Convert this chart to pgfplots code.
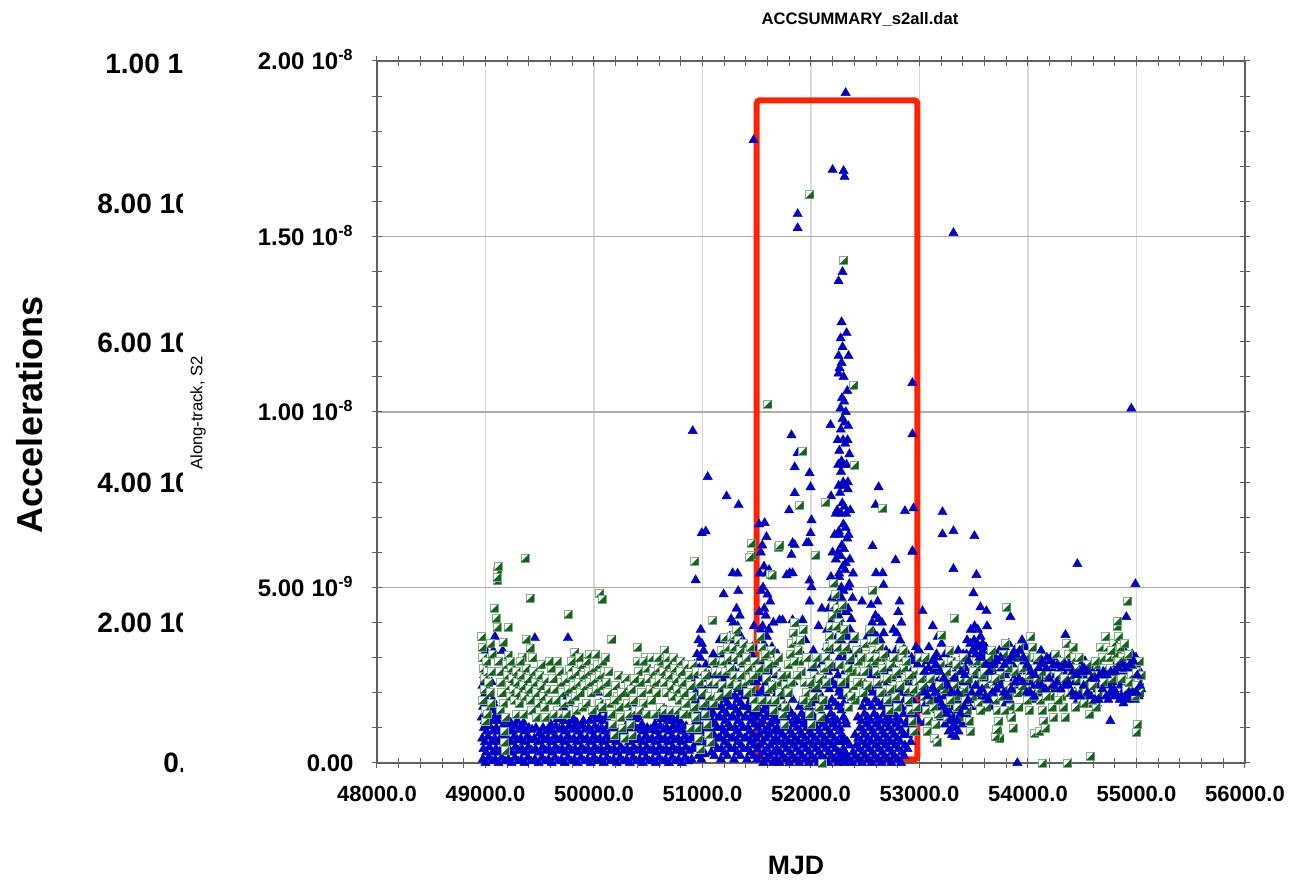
\documentclass[border=0pt]{standalone}
\usepackage{fontspec}
\setmainfont{Liberation Sans}
\usepackage{pgfplots}
\pgfplotsset{compat=1.18}
\definecolor{accblue}{RGB}{0,0,200}
\definecolor{accgreen}{RGB}{20,100,30}
\definecolor{accred}{RGB}{255,34,0}
\pgfdeclareplotmark{halfsq}{%
  \pgfsetfillcolor{white}%
  \pgfpathrectangle{\pgfpoint{-\pgfplotmarksize}{-\pgfplotmarksize}}{\pgfpoint{2\pgfplotmarksize}{2\pgfplotmarksize}}%
  \pgfusepathqfillstroke
  \begin{pgfscope}%
  \pgfsetfillcolor{accgreen}%
  \pgfpathmoveto{\pgfpoint{\pgfplotmarksize}{\pgfplotmarksize}}%
  \pgfpathlineto{\pgfpoint{\pgfplotmarksize}{-\pgfplotmarksize}}%
  \pgfpathlineto{\pgfpoint{-\pgfplotmarksize}{-\pgfplotmarksize}}%
  \pgfpathclose
  \pgfusepathqfill
  \end{pgfscope}%
}
\begin{document}
\begin{tikzpicture}
\useasboundingbox (-188.5pt,-59.5pt) rectangle (465.5pt,381.5pt);
\begin{axis}[
  at={(0pt,0pt)}, anchor=south west,
  scale only axis, width=434pt, height=351pt,
  xmin=48000, xmax=56000, ymin=0, ymax=20,
  clip=false, scaled x ticks=false, scaled y ticks=false,
  xtick={48000,49000,50000,51000,52000,53000,54000,55000,56000},
  xticklabels={48000.0,49000.0,50000.0,51000.0,52000.0,53000.0,54000.0,55000.0,56000.0},
  ytick={0,5,10,15,20},
  yticklabels={0.00,{5.00\hspace{0.3em}10\textsuperscript{-9}},{1.00\hspace{0.3em}10\textsuperscript{-8}},{1.50\hspace{0.3em}10\textsuperscript{-8}},{2.00\hspace{0.3em}10\textsuperscript{-8}}},
  minor x tick num=4, minor y tick num=4,
  tick pos=both, tick align=center,
  major tick length=5pt, minor tick length=5pt,
  axis line style={gray!75!black, line width=0.6pt},
  every tick/.style={gray!75!black, line width=0.5pt},
  xmajorgrids, ymajorgrids,
  x grid style={gray!30, line width=0.6pt},
  y grid style={gray!65, line width=0.6pt},
  ticklabel style={inner sep=0pt},
  xticklabel style={font=\bfseries\fontsize{11}{13}\selectfont, anchor=base, yshift=-17pt},
  yticklabel style={font=\bfseries\fontsize{12}{14}\selectfont, anchor=base east, xshift=-9pt, yshift=-4.3pt},
]
% blue triangles (units of 1e-9)
\addplot[only marks, mark=triangle*, mark size=2.7pt, color=accblue, mark options={fill=accblue, draw=accblue, line width=0.2pt}] coordinates {
(48975,0.1)(48981,0.4)(48970,0.7)(48985,1.0)(48967,1.3)(48978,1.6)(48983,1.9)(48972,2.2)(48987,2.5)
(49000,0.0)(49006,0.3)(48995,0.6)(49010,0.9)(48992,1.2)(49003,1.5)(49008,1.8)(48997,2.1)(49012,2.4)(48990,2.7)(49004,3.2)
(49030,0.15)(49036,0.45)(49025,0.75)(49040,1.05)(49022,1.35)(49033,1.65)(49038,2.0)
(49060,0.05)(49066,0.3)(49055,0.6)(49070,0.9)(49052,1.2)(49063,1.5)(49068,1.8)(49057,2.3)(49072,3.2)
(49090,0.1)(49096,0.4)(49085,0.7)(49100,1.0)(49082,1.3)(49093,1.6)(49087,3.6)
(49120,0.0)(49126,0.3)(49115,0.6)(49130,0.9)(49112,1.2)(49123,1.45)
(49150,0.15)(49156,0.45)(49145,0.75)(49160,1.05)(49142,1.35)(49160,3.2)
(49180,0.05)(49186,0.35)(49175,0.65)(49190,0.95)(49172,1.25)
(49210,0.1)(49216,0.4)(49205,0.7)(49220,1.0)(49202,1.2)
(49240,0.0)(49246,0.3)(49235,0.6)(49250,0.9)(49232,1.15)
(49270,0.15)(49276,0.45)(49265,0.75)(49280,1.05)
(49300,0.05)(49306,0.35)(49295,0.65)(49310,0.95)(49292,1.2)
(49330,0.1)(49336,0.4)(49325,0.7)(49340,1.0)
(49360,0.0)(49366,0.3)(49355,0.6)(49370,0.9)(49352,1.15)
(49390,0.15)(49396,0.45)(49385,0.75)(49400,1.0)
(49420,0.05)(49426,0.35)(49415,0.65)(49430,0.95)
(49455,0.1)(49461,0.4)(49450,0.7)(49465,1.0)(49455,3.56)
(49490,0.0)(49496,0.3)(49485,0.6)(49500,0.85)
(49520,0.15)(49526,0.45)(49515,0.75)(49530,1.0)
(49550,0.05)(49556,0.35)(49545,0.65)(49560,0.9)
(49580,0.1)(49586,0.4)(49575,0.7)(49590,0.95)
(49610,0.0)(49616,0.3)(49605,0.6)(49620,0.9)(49602,1.1)
(49640,0.15)(49646,0.45)(49635,0.75)(49650,1.05)
(49670,0.05)(49676,0.35)(49665,0.65)(49680,0.95)(49662,1.25)
(49700,0.1)(49706,0.4)(49695,0.7)(49710,1.0)(49692,1.3)(49703,1.6)
(49730,0.0)(49736,0.3)(49725,0.6)(49740,0.9)(49722,1.2)(49733,1.5)(49738,1.8)(49727,2.0)
(49760,0.15)(49766,0.45)(49755,0.75)(49770,1.05)(49752,1.35)(49763,1.7)(49760,3.56)
(49790,0.05)(49796,0.35)(49785,0.65)(49800,0.95)(49782,1.2)
(49820,0.1)(49826,0.4)(49815,0.7)(49830,1.0)(49812,1.25)
(49850,0.0)(49856,0.3)(49845,0.6)(49860,0.9)(49842,1.15)
(49880,0.15)(49886,0.45)(49875,0.75)(49890,1.05)
(49910,0.05)(49916,0.35)(49905,0.65)(49920,0.95)(49902,1.2)
(49940,0.1)(49946,0.4)(49935,0.7)(49950,1.0)
(49970,0.0)(49976,0.3)(49965,0.6)(49980,0.9)(49962,1.2)
(50000,0.15)(50006,0.45)(49995,0.75)(50010,1.05)(49992,1.35)
(50030,0.05)(50036,0.35)(50025,0.65)(50040,0.95)(50022,1.25)(50033,1.6)(50038,2.0)
(50060,0.1)(50066,0.4)(50055,0.7)(50070,1.0)(50052,1.3)(50063,1.7)(50068,2.2)
(50090,0.0)(50096,0.3)(50085,0.6)(50100,0.9)(50082,1.2)(50093,1.5)
(50120,0.15)(50126,0.45)(50115,0.75)(50130,1.05)(50112,1.3)
(50150,0.05)(50156,0.35)(50145,0.65)(50160,0.95)
(50180,0.1)(50186,0.4)(50175,0.7)(50190,0.95)
(50210,0.0)(50216,0.3)(50205,0.6)(50220,0.85)
(50240,0.15)(50246,0.45)(50235,0.7)
(50270,0.05)(50276,0.35)(50265,0.65)(50280,0.9)
(50300,0.1)(50306,0.4)(50295,0.7)(50310,0.95)
(50330,0.0)(50336,0.3)(50325,0.6)(50340,0.9)(50322,1.2)
(50360,0.15)(50366,0.45)(50355,0.75)(50370,1.05)(50352,1.35)(50363,1.6)
(50390,0.05)(50396,0.35)(50385,0.65)(50400,0.95)(50382,1.25)(50393,1.5)
(50420,0.1)(50426,0.4)(50415,0.7)(50430,1.0)(50412,1.3)
(50450,0.0)(50456,0.3)(50445,0.6)(50460,0.9)(50442,1.1)
(50480,0.15)(50486,0.45)(50475,0.75)(50490,1.0)
(50510,0.05)(50516,0.35)(50505,0.65)(50520,0.95)
(50540,0.1)(50546,0.4)(50535,0.7)(50550,0.95)
(50570,0.0)(50576,0.3)(50565,0.6)(50580,0.9)(50562,1.1)
(50600,0.15)(50606,0.45)(50595,0.75)(50610,1.05)(50592,1.3)
(50630,0.05)(50636,0.35)(50625,0.65)(50640,0.95)(50622,1.25)(50633,1.5)
(50660,0.1)(50666,0.4)(50655,0.7)(50670,1.0)(50652,1.3)(50663,1.5)
(50690,0.0)(50696,0.3)(50685,0.6)(50700,0.9)(50682,1.2)(50693,1.4)
(50720,0.15)(50726,0.45)(50715,0.75)(50730,1.05)(50712,1.3)
(50750,0.05)(50756,0.35)(50745,0.65)(50760,0.95)(50742,1.2)
(50780,0.1)(50786,0.4)(50775,0.7)(50790,1.0)(50772,1.25)
(50810,0.0)(50816,0.3)(50805,0.6)(50820,0.9)(50802,1.15)
(50840,0.15)(50846,0.45)(50835,0.75)(50850,1.05)
(50870,0.05)(50876,0.35)(50865,0.65)(50880,0.9)
(50900,0.1)(50906,0.4)(50895,0.7)(50910,9.46)
(50930,0.5)(50936,0.8)(50925,1.1)(50940,1.4)(50922,1.7)(50933,2.0)(50938,2.4)(50927,2.8)(50937,5.21)
(50960,0.2)(50966,0.5)(50955,0.8)(50970,1.1)(50952,1.4)(50963,1.7)(50968,2.0)(50957,2.3)(50972,2.7)(50950,3.1)(50964,3.5)
(50990,0.1)(50996,0.4)(50985,0.7)(51000,1.0)(50982,1.3)(50993,1.6)(50998,1.9)(50987,2.2)(51002,2.6)(50980,3.0)(50994,3.4)(50984,3.8)(50993,6.55)
(51020,0.25)(51026,0.55)(51015,0.85)(51030,1.15)(51012,1.45)(51023,1.75)(51028,2.05)(51017,2.4)(51032,2.8)(51010,3.2)(51030,6.6)
(51050,0.6)(51056,0.9)(51045,1.2)(51060,1.5)(51042,1.8)(51053,2.1)(51058,2.5)(51048,8.15)
(51080,0.3)(51086,0.6)(51075,0.9)(51090,1.2)(51072,1.5)(51083,1.8)(51088,2.1)(51077,2.4)
(51110,0.2)(51116,0.5)(51105,0.8)(51120,1.1)(51102,1.4)(51113,1.7)(51118,2.0)(51107,2.3)(51122,2.7)(51100,3.1)
(51140,0.4)(51146,0.7)(51135,1.0)(51150,1.3)(51132,1.6)(51143,1.9)(51148,2.2)(51137,2.5)(51152,2.9)
(51170,0.1)(51176,0.4)(51165,0.7)(51180,1.0)(51162,1.3)(51173,1.6)(51178,2.0)(51167,2.4)(51182,3.0)(51160,3.5)
(51200,0.3)(51206,0.6)(51195,0.9)(51210,1.2)(51192,1.5)(51203,1.8)(51208,2.1)(51197,2.5)(51195,4.81)
(51230,0.2)(51236,0.5)(51225,0.8)(51240,1.1)(51222,1.4)(51233,1.7)(51238,2.0)(51227,2.4)(51242,2.8)(51220,3.3)(51222,7.6)
(51260,0.4)(51266,0.7)(51255,1.0)(51270,1.3)(51252,1.6)(51263,1.9)(51268,2.3)(51257,2.7)(51272,3.1)(51250,3.6)(51264,4.1)
(51290,0.1)(51296,0.4)(51285,0.7)(51300,1.0)(51282,1.3)(51293,1.6)(51298,1.9)(51287,2.2)(51302,2.6)(51280,3.0)(51294,3.5)(51284,4.0)(51278,5.41)
(51320,0.3)(51326,0.6)(51315,0.9)(51330,1.2)(51312,1.5)(51323,1.8)(51328,2.1)(51317,2.5)(51332,2.9)(51310,3.4)(51324,3.9)(51314,4.4)(51329,4.9)(51324,5.4)
(51350,0.2)(51356,0.5)(51345,0.8)(51360,1.1)(51342,1.4)(51353,1.7)(51358,2.0)(51347,2.3)(51362,2.7)(51340,3.1)(51354,3.6)(51344,4.2)(51333,7.35)
(51380,0.4)(51386,0.7)(51375,1.0)(51390,1.3)(51372,1.6)(51383,1.9)(51388,2.2)(51377,2.6)(51392,3.0)
(51410,0.1)(51416,0.4)(51405,0.7)(51420,1.0)(51402,1.3)(51413,1.6)(51418,2.0)(51407,2.4)
(51440,0.3)(51446,0.6)(51435,0.9)(51450,1.2)(51432,1.5)(51443,1.8)(51448,2.2)(51437,2.6)(51452,3.1)
(51470,0.2)(51476,0.5)(51465,0.8)(51480,1.1)(51462,1.4)(51473,1.7)(51478,2.0)(51467,2.4)(51482,2.8)(51460,3.3)(51474,3.9)(51471,17.75)
(51500,0.1)(51506,0.4)(51495,0.7)(51510,1.0)(51492,1.3)(51503,1.6)(51508,1.9)(51497,2.3)(51512,2.7)
(51530,0.2)(51536,0.5)(51525,0.8)(51540,1.1)(51522,1.4)(51533,1.7)(51538,2.0)(51527,2.4)(51542,2.8)(51520,3.3)(51534,3.8)(51524,4.3)(51539,4.9)(51528,5.4)(51537,6.0)(51521,6.8)
(51560,0.0)(51566,0.3)(51555,0.6)(51570,0.9)(51552,1.2)(51563,1.5)(51568,1.8)(51557,2.1)(51572,2.5)(51550,2.9)(51564,3.4)(51554,3.9)(51569,4.4)(51558,5.0)(51567,5.6)(51551,6.2)(51573,6.84)
(51590,0.1)(51596,0.4)(51585,0.7)(51600,1.0)(51582,1.3)(51593,1.6)(51598,1.9)(51587,2.3)(51602,2.7)(51580,3.1)(51594,3.6)(51584,4.2)(51599,4.8)(51588,5.4)(51590,6.44)
(51620,0.2)(51626,0.5)(51615,0.8)(51630,1.1)(51612,1.4)(51623,1.7)(51628,2.1)(51617,2.6)(51632,3.2)(51610,3.8)(51624,4.6)(51614,5.5)
(51650,0.0)(51656,0.3)(51645,0.6)(51660,0.9)(51642,1.2)(51653,1.5)(51658,1.8)(51647,2.2)(51662,2.7)(51640,3.3)(51654,4.0)
(51680,0.1)(51686,0.4)(51675,0.7)(51690,1.0)(51672,1.3)(51683,1.6)(51688,2.0)(51677,2.5)(51692,3.1)
(51710,0.0)(51716,0.3)(51705,0.6)(51720,0.9)(51702,1.2)(51713,1.5)(51718,1.9)(51707,2.3)(51710,4.07)
(51740,0.2)(51746,0.5)(51735,0.8)(51750,1.1)(51732,1.4)(51743,1.7)(51738,4.07)
(51770,0.1)(51776,0.4)(51765,0.7)(51780,1.0)(51762,1.3)(51773,1.6)(51778,2.0)(51767,2.4)(51775,5.35)
(51800,0.0)(51806,0.3)(51795,0.6)(51810,0.9)(51792,1.2)(51803,1.5)(51803,5.41)(51798,7.2)
(51830,0.2)(51836,0.5)(51825,0.8)(51840,1.1)(51822,1.4)(51833,1.8)(51838,2.3)(51830,4.07)(51831,5.41)(51831,6.27)(51820,5.93)(51820,9.34)
(51860,0.1)(51866,0.4)(51855,0.7)(51870,1.0)(51852,1.3)(51850,8.43)(51850,7.69)(51850,6.21)
(51877,15.64)(51877,15.24)(51877,8.83)
(51890,0.0)(51896,0.3)(51885,0.6)(51900,0.9)(51882,1.2)(51893,1.6)(51898,3.2)
(51920,0.2)(51926,0.5)(51915,0.8)(51930,1.1)(51912,1.4)(51923,1.8)(51922,4.07)(51960,6.27)
(51950,0.1)(51956,0.4)(51945,0.7)(51960,1.0)(51942,1.3)(51953,1.7)(51948,3.5)
(51980,0.0)(51986,0.3)(51975,0.6)(51990,0.9)(51972,1.2)(51983,1.6)(51988,2.0)(51987,4.6)(51987,5.2)(51978,6.27)(51987,8.26)(51996,7.86)(52005,6.92)(51996,6.55)(52005,5.01)
(52010,0.2)(52016,0.5)(52005,0.8)(52020,1.1)(52002,1.4)(52013,1.8)(52018,2.2)(52007,2.7)(52022,3.2)
(52040,0.1)(52046,0.4)(52035,0.7)(52050,1.0)(52032,1.3)(52043,1.7)(52048,2.1)(52037,2.6)
(52070,0.0)(52076,0.3)(52065,0.6)(52080,0.9)(52062,1.2)(52073,1.6)(52078,2.0)(52070,3.9)
(52100,0.2)(52106,0.5)(52095,0.8)(52110,1.1)(52092,1.4)(52103,1.8)(52108,2.3)(52097,2.8)(52100,4.4)
(52130,0.1)(52136,0.4)(52125,0.7)(52140,1.0)(52122,1.3)(52133,1.7)(52138,2.2)(52127,2.7)(52142,3.3)
(52160,0.0)(52166,0.3)(52155,0.6)(52170,0.9)(52152,1.2)(52163,1.6)(52168,2.1)(52157,2.6)(52172,3.2)(52150,3.8)(52164,4.4)
(52180,9.63)(52185,7.6)
(52190,0.2)(52196,0.5)(52185,0.8)(52200,1.1)(52182,1.4)(52193,1.8)(52198,2.3)(52187,2.8)(52202,3.4)(52180,4.0)(52194,4.7)(52184,5.3)(52199,6.0)(52199,16.9)
(52220,0.1)(52226,0.4)(52215,0.7)(52230,1.0)(52212,1.3)(52223,1.7)(52228,2.2)(52217,2.7)(52232,3.3)(52210,3.9)(52224,4.5)(52214,5.1)(52229,5.8)(52218,6.5)(52227,7.1)
(52250,0.0)(52256,0.3)(52245,0.6)(52260,0.9)(52242,1.2)(52253,1.6)(52258,2.0)(52247,2.5)(52262,3.0)(52240,3.6)(52254,4.2)(52244,4.8)(52259,5.4)(52248,6.0)(52257,6.6)(52241,7.2)(52255,7.9)(52251,8.5)(52246,9.2)(52254,11.1)(52254,11.6)(52254,13.73)
(52270,0.2)(52276,0.6)(52265,1.0)(52280,1.5)(52262,2.1)(52273,2.8)(52278,3.5)(52267,4.1)(52282,4.7)(52260,5.3)(52274,5.9)(52264,6.5)(52279,7.1)(52268,7.7)(52277,8.3)(52261,8.9)(52275,9.5)(52271,10.1)(52263,11.25)(52273,12.1)(52282,12.56)(52282,11.4)
(52290,0.1)(52296,0.4)(52285,0.8)(52300,1.3)(52282,1.9)(52293,2.5)(52298,3.2)(52287,3.8)(52302,4.4)(52280,5.0)(52294,5.6)(52284,6.2)(52299,6.8)(52288,7.4)(52297,8.0)(52281,8.6)(52295,9.2)(52291,9.8)(52286,10.4)(52301,11.0)(52291,11.85)(52291,13.99)(52300,16.87)
(52310,0.0)(52316,0.3)(52305,0.7)(52320,1.2)(52302,1.7)(52313,2.3)(52318,3.0)(52307,3.7)(52322,4.3)(52300,4.9)(52314,5.5)(52304,6.1)(52319,6.7)(52308,7.3)(52317,7.9)(52301,8.5)(52315,9.1)(52311,9.7)(52306,10.3)(52309,16.7)(52319,19.09)
(52330,0.2)(52336,0.6)(52325,1.1)(52340,1.6)(52322,2.2)(52333,2.9)(52338,3.6)(52327,4.3)(52342,5.0)(52320,5.7)(52334,6.4)(52324,7.1)(52339,7.8)(52328,8.5)(52337,9.2)(52321,10.0)(52335,10.6)(52328,12.25)
(52350,0.1)(52356,0.5)(52345,3.2)(52360,3.8)(52342,4.4)(52353,5.1)(52358,5.8)(52347,6.5)(52362,7.2)(52340,8.0)(52354,8.8)(52344,9.6)(52346,11.6)
(52380,0.0)(52386,0.3)(52375,2.9)(52390,3.5)(52372,4.1)(52383,4.7)(52388,5.4)
(52410,0.2)(52416,0.5)(52405,0.8)(52420,3.0)(52402,3.6)
(52440,0.1)(52446,0.4)(52435,0.7)(52450,1.0)(52432,1.3)(52443,2.6)(52448,3.2)
(52470,0.0)(52476,0.3)(52465,0.6)(52480,0.9)(52462,1.2)(52473,1.6)(52470,4.6)
(52500,0.2)(52506,0.5)(52495,0.8)(52510,1.1)(52492,1.4)(52503,1.8)(52508,2.2)
(52530,0.1)(52536,0.4)(52525,0.7)(52540,1.0)(52522,1.3)(52533,1.7)(52538,2.1)(52527,2.6)(52542,3.1)(52520,3.6)
(52560,0.0)(52566,0.3)(52555,0.6)(52570,0.9)(52552,1.2)(52563,1.6)(52568,2.0)(52557,2.5)(52572,3.0)(52550,3.5)(52564,4.0)(52554,4.5)(52567,6.18)
(52590,0.2)(52596,0.5)(52585,0.8)(52600,1.1)(52582,1.4)(52593,1.8)(52598,2.2)(52587,2.7)(52602,3.2)(52580,3.7)(52594,4.2)(52600,5.41)(52595,7.35)
(52620,0.1)(52626,0.4)(52615,0.7)(52630,1.0)(52612,1.3)(52623,1.7)(52628,2.1)(52617,2.6)(52632,3.1)(52610,3.6)(52624,4.1)(52614,4.6)(52623,7.86)
(52650,0.0)(52656,0.3)(52645,0.6)(52660,0.9)(52642,1.2)(52653,1.6)(52658,2.0)(52647,2.5)(52662,3.0)(52640,3.5)(52654,4.0)(52660,5.41)
(52680,0.2)(52686,0.5)(52675,0.8)(52690,1.1)(52672,1.4)(52683,1.8)(52688,2.2)(52677,2.7)(52692,3.2)(52670,3.7)(52669,5.07)
(52710,0.1)(52716,0.4)(52705,0.7)(52720,1.0)(52702,1.3)(52713,1.7)(52718,2.1)(52707,2.6)(52722,3.1)
(52740,0.0)(52746,0.3)(52735,0.6)(52750,0.9)(52732,1.2)(52743,1.6)(52748,2.0)(52737,2.4)
(52770,0.2)(52776,0.5)(52765,0.8)(52780,1.1)(52762,1.4)(52773,1.8)(52778,2.2)(52767,2.7)(52782,3.2)(52760,3.8)(52779,5.78)
(52800,0.1)(52806,0.4)(52795,0.7)(52810,1.0)(52792,1.3)(52803,1.7)(52808,2.1)(52797,2.6)(52812,3.1)(52790,3.7)(52804,4.3)(52816,4.6)
(52830,0.0)(52836,0.3)(52825,0.6)(52840,0.9)(52822,1.2)(52833,1.6)(52838,2.0)(52827,2.5)(52842,3.0)(52820,3.5)(52834,4.0)
(52860,0.2)(52866,0.5)(52855,0.8)(52870,1.1)(52852,1.4)(52863,1.8)(52868,2.2)(52857,2.7)(52872,3.2)(52866,7.18)
(52890,0.4)(52896,0.8)(52885,1.2)(52900,1.6)(52882,2.0)(52893,2.4)(52898,2.9)
(52920,0.6)(52926,1.0)(52915,1.4)(52930,1.8)(52912,2.2)(52923,2.6)(52928,3.0)(52935,6.04)
(52935,9.37)(52935,10.83)(52945,7.26)(52935,6.01)
(52960,0.9)(52966,1.3)(52955,1.7)(52970,2.1)(52952,2.5)(52963,2.9)(52968,3.3)
(52990,1.2)(52996,1.6)(52985,2.0)(53000,2.4)(52982,2.8)(52993,3.2)(53028,4.33)
(53025,1.5)(53031,1.9)(53020,2.3)(53035,2.7)(53017,3.1)(53046,1.14)
(53060,1.7)(53066,2.1)(53055,2.5)(53070,2.9)
(53095,1.6)(53101,2.0)(53090,2.4)(53105,2.8)(53087,3.3)
(53130,1.8)(53136,2.2)(53125,2.6)(53140,3.0)(53122,3.9)
(53165,1.5)(53171,1.9)(53160,2.3)(53175,2.7)(53157,3.1)(53168,3.6)
(53200,1.3)(53206,1.7)(53195,2.1)(53210,2.5)(53192,2.9)(53203,3.4)(53212,7.15)(53212,6.52)
(53235,1.1)(53241,1.5)(53230,1.9)(53245,2.3)(53227,2.7)(53238,3.1)
(53270,0.9)(53276,1.2)(53265,1.5)(53280,1.8)(53262,2.1)(53273,2.4)(53278,2.8)
(53300,0.8)(53306,1.0)(53295,1.3)(53310,1.6)(53292,1.9)(53303,2.2)(53308,2.5)(53297,2.9)(53313,6.61)(53313,5.53)(53313,15.1)
(53330,0.75)(53336,1.0)(53325,1.3)(53340,1.6)(53322,1.9)(53333,2.2)(53338,2.6)
(53360,0.9)(53366,1.2)(53355,1.5)(53370,1.8)(53352,2.1)(53363,2.4)(53368,2.8)(53357,3.2)
(53395,1.1)(53401,1.4)(53390,1.7)(53405,2.0)(53387,2.3)(53398,2.7)(53403,3.1)
(53430,1.4)(53436,1.7)(53425,2.0)(53440,2.3)(53422,2.7)(53433,3.1)(53438,3.5)
(53465,1.6)(53471,1.9)(53460,2.2)(53475,2.6)(53457,3.0)(53468,3.4)(53473,3.8)
(53500,1.8)(53506,2.1)(53495,2.5)(53510,2.9)(53492,3.2)(53503,3.5)(53508,3.9)(53497,4.84)(53506,6.47)
(53530,1.6)(53536,2.0)(53525,2.4)(53540,2.8)(53522,3.1)(53533,3.4)(53538,3.8)(53525,5.36)
(53560,1.8)(53566,2.2)(53555,2.6)(53570,3.0)(53552,3.3)(53563,3.6)(53562,4.44)
(53590,1.9)(53596,2.3)(53585,2.7)(53600,3.0)(53582,3.4)
(53620,1.7)(53626,2.1)(53615,2.5)(53630,2.9)(53612,3.3)(53623,3.9)(53617,4.33)
(53655,1.6)(53661,2.0)(53650,2.4)(53665,2.8)
(53690,1.8)(53696,2.2)(53685,2.6)(53700,3.0)
(53725,2.0)(53731,2.4)(53720,2.8)(53735,3.2)
(53760,1.9)(53766,2.3)(53755,2.7)(53770,3.1)
(53795,1.7)(53801,2.1)(53790,2.5)(53805,2.9)(53787,3.3)
(53830,1.8)(53836,2.2)(53825,2.6)(53840,3.0)(53822,3.4)(53838,4.16)
(53865,2.0)(53871,2.4)(53860,2.8)(53875,3.2)
(53900,2.2)(53906,2.6)(53895,3.0)(53910,3.3)(53902,0.0)
(53935,2.3)(53941,2.7)(53930,3.1)(53945,3.5)
(53970,2.1)(53976,2.5)(53965,2.9)(53980,3.3)
(54005,1.9)(54011,2.3)(54000,2.7)(54015,3.0)
(54040,1.8)(54046,2.2)(54035,2.6)
(54075,2.0)(54081,2.4)(54070,2.8)
(54110,2.1)(54116,2.5)(54105,2.9)(54120,3.2)
(54145,2.0)(54151,2.4)(54140,2.8)
(54180,2.2)(54186,2.6)(54175,3.0)
(54215,2.3)(54221,2.7)(54210,3.0)
(54250,2.1)(54256,2.5)(54245,2.9)
(54285,2.2)(54291,2.6)(54280,3.0)
(54320,2.0)(54326,2.4)(54315,2.8)(54345,3.65)
(54355,2.2)(54361,2.6)
(54390,2.1)(54396,2.5)(54385,2.9)
(54425,1.9)(54431,2.3)(54420,2.7)(54455,5.67)
(54460,1.8)(54466,2.2)(54455,2.6)
(54495,2.0)(54501,2.4)(54490,2.8)
(54530,2.1)(54536,2.5)(54525,2.9)
(54565,1.9)(54571,2.3)(54560,2.7)
(54600,1.8)(54606,2.2)(54595,2.6)
(54635,1.7)(54641,2.1)(54630,2.5)
(54670,1.9)(54676,2.3)(54665,2.7)
(54705,2.0)(54711,2.4)
(54740,1.8)(54746,2.2)(54735,2.6)(54750,3.0)(54759,1.2)
(54775,1.9)(54781,2.3)
(54810,2.0)(54816,2.4)(54805,2.8)
(54845,1.8)(54851,2.2)(54840,2.6)(54855,3.0)
(54880,1.7)(54886,2.1)(54875,2.5)(54890,2.9)(54872,3.3)(54906,4.16)
(54915,1.8)(54921,2.2)(54910,2.6)(54925,3.0)
(54950,1.9)(54956,2.3)(54945,2.7)(54960,3.1)(54952,10.1)
(54985,1.8)(54991,2.2)(54980,2.6)(54995,3.0)(54990,5.1)
(55020,1.9)(55026,2.3)(55015,2.7)
(55045,2.1)(55040,2.5)
};
% green half-filled squares (units of 1e-9)
\addplot[only marks, mark=halfsq, mark size=2pt, mark options={draw=accgreen!50, line width=0.3pt}] coordinates {
(48965,3.6)(48970,3.3)(48975,3.0)(48980,2.7)(48985,2.4)(48990,2.1)(48975,1.8)(48995,1.5)(49000,1.2)
(49010,2.9)(49020,2.6)(49030,2.3)(49040,2.0)(49050,1.7)(49060,3.1)(49045,3.4)
(49080,4.42)(49095,4.13)(49105,3.87)(49110,5.2)(49112,5.45)(49115,5.6)(49105,5.3)
(49120,2.9)(49130,2.6)(49140,2.3)(49150,2.0)(49160,3.45)(49165,1.7)(49170,0.9)(49175,0.6)(49178,0.35)
(49190,2.8)(49200,2.5)(49206,3.87)(49206,3.08)(49215,2.2)(49225,1.9)(49235,2.7)(49245,2.4)
(49260,2.1)(49270,1.8)(49280,2.6)(49290,2.3)(49300,2.0)(49310,1.7)
(49335,3.02)(49330,2.5)(49345,2.2)(49360,1.9)(49363,5.84)(49372,3.53)(49375,2.7)(49390,2.4)(49400,2.1)(49409,4.7)(49409,3.28)(49415,1.8)(49425,1.5)
(49440,2.6)(49455,2.3)(49470,2.0)(49485,1.7)(49500,2.5)(49515,2.2)(49530,1.9)(49545,1.6)(49560,2.4)(49575,2.1)(49590,1.8)(49605,2.7)(49620,2.4)(49635,2.1)(49650,1.8)(49665,1.5)(49680,2.6)(49695,2.3)(49710,2.0)(49725,1.7)(49740,2.4)(49759,4.24)(49760,2.1)(49775,2.68)(49780,1.8)(49795,2.5)(49810,2.2)(49823,3.16)(49825,1.9)(49840,2.6)(49855,2.3)(49870,2.0)(49885,2.8)(49900,2.5)(49915,2.2)(49930,2.9)(49945,2.6)(49960,2.3)(49975,2.0)(49990,2.7)(50005,2.4)(50020,2.1)(50035,2.8)(50050,2.5)(50053,4.84)(50072,4.67)(50065,2.2)(50080,2.9)(50095,2.6)(50110,2.3)(50125,2.0)(50140,1.7)(50155,1.4)(50164,3.53)(50170,1.1)(50185,0.8)(50200,2.2)(50215,1.9)(50230,1.6)(50245,1.3)(50260,1.0)(50275,0.7)(50290,2.0)(50305,1.7)(50320,1.4)(50335,1.1)(50350,0.8)(50365,1.8)(50380,1.5)(50395,2.9)(50400,3.3)(50410,2.6)(50425,2.3)(50440,2.0)(50455,1.7)(50470,3.0)(50485,2.7)(50500,2.4)(50515,2.1)(50530,1.8)(50545,2.6)(50560,2.3)(50575,2.0)(50590,2.7)(50605,2.4)(50620,2.9)(50635,2.6)(50652,3.22)(50650,2.3)(50665,2.0)(50680,2.8)(50695,2.5)(50710,2.2)(50725,1.9)(50740,2.7)(50755,2.4)(50770,2.1)(50785,1.8)(50800,2.6)(50815,2.3)(50830,2.0)(50845,1.7)(50860,1.4)(50875,2.5)(50890,2.2)(50905,1.9)(50920,1.6)(50928,5.75)(50935,1.3)(50950,1.0)(50965,0.7)(50980,0.4)(50995,2.0)(51010,1.7)(51025,1.4)(51040,1.1)(51055,0.8)(51070,2.3)(51085,2.0)(51094,4.07)(51100,1.7)(51115,2.6)(51130,2.3)(51145,2.9)(51160,2.6)(51175,3.2)(51190,2.9)(51204,3.59)(51210,2.6)(51225,3.3)(51240,3.0)(51255,2.7)(51270,3.6)(51285,3.3)(51297,3.65)(51300,3.0)(51315,3.8)(51330,3.5)(51345,3.2)(51360,2.9)(51375,2.6)(51390,2.3)(51405,3.0)(51420,2.7)(51435,2.4)(51450,6.27)(51453,5.93)(51434,5.87)(51450,2.1)(51465,1.8)(51480,2.9)(51495,2.6)
(49015,1.4)(49055,2.6)(49135,1.5)(49185,1.3)(49230,2.9)(49285,1.4)(49320,2.9)(49350,1.4)(49435,3.0)(49465,1.3)(49510,2.8)(49550,1.3)(49585,2.9)(49630,1.4)(49660,2.9)(49700,1.4)(49745,1.4)(49790,2.9)(49835,1.5)(49860,3.0)(49895,1.6)(49925,1.7)(49955,3.1)(49985,1.5)(50015,3.1)(50045,1.7)(50075,1.6)(50105,3.0)(50135,2.6)(50190,1.8)(50225,2.5)(50255,2.0)(50285,2.4)(50315,2.2)(50345,2.1)(50375,2.4)(50420,1.5)(50450,2.9)(50480,1.4)(50525,3.0)(50555,1.4)(50585,3.0)(50615,1.6)(50645,1.5)(50675,3.0)(50705,1.5)(50735,3.0)(50765,1.5)(50795,2.9)(50825,1.4)(50855,2.8)(50885,1.0)(50910,2.8)(50945,2.6)(50970,2.3)(51000,2.6)(51030,2.5)(51060,1.9)(51075,0.6)(51090,2.9)(51120,2.0)(51150,1.9)(51180,2.2)(51230,2.0)(51260,2.3)(51290,2.5)(51320,2.2)(51350,2.5)(51380,3.4)(51410,2.0)(51440,3.3)(51470,2.5)(51490,1.6)
(51530,3.6)(51545,3.3)(51560,3.0)(51575,2.7)(51590,2.4)(51600,10.23)(51605,2.1)(51620,1.8)(51628,5.38)(51635,3.2)(51640,5.36)(51650,1.5)(51665,2.9)(51680,2.6)(51695,2.3)(51700,6.15)(51710,6.21)(51710,2.0)(51725,1.7)(51740,1.4)(51755,1.1)(51760,2.2)(51775,2.5)(51790,2.8)(51805,3.1)(51820,3.4)(51835,3.7)(51850,4.0)(51865,3.5)(51880,3.2)(51895,7.35)(51895,2.9)(51910,2.6)(51923,8.89)(51925,3.8)(51940,2.3)(51955,2.0)(51970,1.7)(51985,1.4)(51987,16.2)(52000,1.1)(52015,2.8)(52030,2.5)(52042,5.93)(52045,2.2)(52060,1.9)(52075,1.6)(52090,1.3)(52105,2.4)(52120,2.7)(52134,7.44)(52135,3.0)(52150,3.3)(52165,3.6)(52180,3.9)(52195,4.2)(52208,5.13)(52210,4.5)(52225,4.8)(52240,4.4)(52255,4.0)(52270,3.6)(52285,3.2)(52300,14.33)(52300,2.8)(52315,2.4)(52330,2.0)(52345,1.6)(52360,3.0)(52375,2.6)(52392,10.77)(52401,8.49)(52390,2.2)(52405,1.8)(52420,3.2)(52435,2.9)(52450,2.6)(52465,2.3)(52480,2.0)(52495,3.4)(52510,3.1)(52525,2.8)(52540,3.8)(52555,3.5)(52567,4.93)(52570,3.2)(52585,2.9)(52600,2.6)(52615,2.3)(52630,3.3)(52645,3.0)(52660,7.26)(52660,2.7)(52675,2.4)(52690,2.1)(52705,1.8)(52720,1.5)(52735,2.8)(52750,2.5)(52765,2.2)(52780,1.9)(52795,1.6)(52810,3.0)(52825,3.3)(52840,3.0)(52855,2.7)(52870,2.4)(52885,2.1)(52900,1.8)(52915,1.5)(52930,1.2)(52945,0.9)(52960,2.6)(52975,2.3)(52990,2.0)
(51520,2.7)(51550,1.8)(51580,3.1)(51610,2.8)(51640,2.2)(51670,1.8)(51700,3.0)(51730,2.5)(51760,1.6)(51790,2.0)(51815,2.3)(51845,2.9)(51870,2.5)(51900,3.5)(51930,1.8)(51960,3.0)(51990,2.3)(52020,1.9)(52050,3.0)(52080,2.4)(52110,1.8)(52140,2.3)(52170,2.8)(52200,3.4)(52230,3.9)(52245,3.3)(52260,2.8)(52275,2.3)(52290,4.5)(52305,3.8)(52320,3.3)(52340,2.7)(52370,1.9)(52400,3.6)(52430,2.3)(52460,3.0)(52490,2.6)(52520,2.2)(52550,3.0)(52580,3.5)(52610,3.0)(52640,2.0)(52670,3.1)(52700,2.4)(52730,2.1)(52760,3.0)(52790,2.6)(52820,2.2)(52850,3.2)(52880,2.9)(52910,2.5)(52940,2.1)(52970,1.6)(52100,0.0)
(53000,3.0)(53015,2.6)(53030,2.2)(53045,1.9)(53060,1.5)(53070,0.9)(53085,1.2)(53100,2.4)(53115,2.0)(53130,1.6)(53140,0.7)(53150,1.1)(53160,0.6)(53175,1.4)(53190,2.8)(53203,3.65)(53215,2.5)(53230,2.1)(53245,1.7)(53260,1.3)(53275,3.2)(53290,2.9)(53305,2.5)(53322,4.13)(53320,2.2)(53335,1.9)(53350,1.6)(53365,1.3)(53380,2.7)(53395,2.4)(53410,2.1)(53425,1.8)(53440,1.5)(53455,1.2)(53470,0.9)(53485,2.9)(53500,2.6)(53515,2.3)(53530,2.0)(53545,1.7)(53560,2.8)(53575,2.5)(53590,2.2)(53605,1.9)(53620,1.6)(53640,3.0)(53655,2.7)(53670,2.4)(53685,2.1)(53700,1.8)(53715,1.5)(53720,0.9)(53730,1.2)(53740,0.7)(53745,2.5)(53760,2.8)(53775,3.1)(53790,3.4)(53801,4.44)(53805,2.2)(53820,1.9)(53835,1.6)(53840,1.4)(53850,1.3)(53860,1.0)(53875,2.6)(53890,2.3)(53905,2.0)(53920,3.3)(53935,3.0)(53950,2.7)(53965,2.4)(53980,2.1)(53995,1.8)(54010,1.5)(54025,3.6)(54040,3.3)(54055,3.0)(54060,0.85)(54070,2.7)(54085,2.4)(54100,0.9)(54100,2.1)(54115,1.8)(54130,1.5)(54133,0.0)(54145,1.2)(54160,1.0)(54175,2.5)(54190,2.2)(54205,1.9)(54220,1.6)(54235,1.3)(54250,3.1)(54265,2.8)(54280,2.5)(54295,2.2)(54310,1.9)(54325,1.6)(54340,1.3)(54355,3.4)(54363,0.0)(54370,3.1)(54385,2.8)(54400,2.5)(54415,3.3)(54430,3.0)(54445,2.7)(54460,2.4)(54475,2.1)(54490,1.8)(54505,2.6)(54520,2.3)(54535,2.0)(54550,1.7)(54565,1.4)(54575,0.2)(54580,2.5)(54595,2.2)(54610,1.9)(54625,1.6)(54640,2.8)(54655,2.5)(54670,3.3)(54685,3.0)(54700,2.7)(54715,3.6)(54730,3.3)(54745,3.0)(54760,2.7)(54775,2.4)(54790,3.4)(54805,3.1)(54820,3.9)(54823,4.05)(54835,3.6)(54850,3.3)(54865,3.0)(54880,2.7)(54895,2.4)(54910,2.1)(54915,4.62)(54925,3.1)(54940,2.8)(54955,2.5)(54970,2.2)(54985,1.9)(55000,2.6)(55007,1.1)(54998,0.88)(55015,2.3)(55030,2.0)(55040,2.5)
(53010,2.4)(53050,3.0)(53090,1.8)(53120,2.8)(53180,2.2)(53250,2.6)(53285,1.8)(53340,2.8)(53370,2.0)(53405,3.0)(53450,2.4)(53490,1.9)(53525,2.9)(53565,1.5)(53600,2.6)(53630,2.0)(53665,3.2)(53700,2.4)(53700,0.75)(53712,0.95)(53755,1.9)(53785,1.5)(53815,2.7)(53850,2.1)(53885,3.0)(53915,1.6)(53945,2.2)(53975,3.0)(54010,2.5)(54050,1.9)(54090,3.0)(54125,2.6)(54170,1.9)(54210,2.8)(54240,2.2)(54275,1.8)(54305,2.9)(54335,2.4)(54375,2.0)(54410,2.0)(54440,1.6)(54470,3.0)(54515,1.7)(54545,2.8)(54590,1.8)(54620,2.9)(54660,2.0)(54695,2.3)(54725,2.0)(54765,3.2)(54800,2.6)(54830,2.9)(54860,2.4)(54890,3.4)(54930,2.3)(54965,2.8)(55000,2.2)(55025,2.9)
};
% more blue in the 53000-55050 band, drawn over part of the green
\addplot[only marks, mark=triangle*, mark size=2.7pt, color=accblue, mark options={fill=accblue, draw=accblue, line width=0.2pt}] coordinates {
(53042,2.0)(53048,2.6)(53077,1.9)(53083,2.7)(53112,2.1)(53118,2.9)(53147,2.0)(53153,2.8)(53182,1.8)(53188,2.6)(53217,1.6)(53223,2.4)(53252,1.4)(53258,2.2)(53287,1.2)(53293,2.0)(53317,1.1)(53323,2.4)(53347,1.2)(53353,2.0)(53377,1.4)(53383,2.6)(53412,1.6)(53418,2.5)(53447,1.8)(53453,2.9)(53482,2.0)(53488,3.2)(53517,2.2)(53523,3.3)(53547,2.0)(53553,3.0)(53577,2.1)(53583,3.2)(53607,1.9)(53613,2.8)(53637,1.8)(53643,2.6)(53672,2.0)(53678,2.8)(53707,2.1)(53713,2.9)(53742,2.2)(53748,3.0)(53777,2.0)(53783,2.8)(53812,1.9)(53818,2.9)(53847,2.1)(53853,3.0)(53882,2.3)(53888,3.1)(53917,2.4)(53923,3.2)(53952,2.3)(53958,3.0)(53987,2.0)(53993,2.8)(54022,2.0)(54028,2.6)(54057,1.9)(54063,2.5)(54092,2.2)(54098,2.7)(54127,2.2)(54133,2.9)(54162,2.1)(54168,2.7)(54197,2.4)(54203,2.9)(54232,2.2)(54238,2.8)(54267,2.3)(54273,2.8)(54302,2.1)(54308,2.7)(54337,2.2)(54343,2.8)(54372,2.3)(54378,2.8)(54407,2.0)(54413,2.6)(54442,1.9)(54448,2.5)(54477,1.9)(54483,2.6)(54512,2.2)(54518,2.7)(54547,2.0)(54553,2.6)(54582,1.9)(54588,2.4)(54617,1.8)(54623,2.4)(54652,1.8)(54658,2.5)(54687,2.1)(54693,2.6)(54722,1.9)(54728,2.5)(54757,2.0)(54763,2.6)(54792,2.1)(54798,2.6)(54827,1.9)(54833,2.7)(54862,1.9)(54868,2.8)(54897,1.9)(54903,2.7)(54932,2.0)(54938,2.8)(54967,2.0)(54973,2.9)(55002,2.0)(55008,2.5)(55033,2.2)
};
\draw[accred, line width=3pt, rounded corners=1.5pt] (axis cs:51500,0.1) rectangle (axis cs:52980,18.88);
\end{axis}
\node[font=\bfseries\fontsize{8.3}{10}\selectfont] at (241.5pt,371.5pt) {ACCSUMMARY\_s2all.dat};
\node[font=\bfseries\fontsize{13.3}{15}\selectfont] at (209.5pt,-51pt) {MJD};
\node[font=\bfseries\fontsize{18}{20}\selectfont, rotate=90] at (-173.5pt,174pt) {Accelerations};
\node[font=\fontsize{8.3}{10}\selectfont, rotate=90] at (-89.5pt,175pt) {Along-track, S2};
\begin{scope}
\clip (-188.5pt,-59.5pt) rectangle (-97pt,381.5pt);
\begin{scope}[every node/.style={font=\bfseries\fontsize{14}{16}\selectfont, anchor=west, inner sep=0pt}]
\node at (-136pt,349.5pt) {1.00 10};
\node at (-140pt,279.5pt) {8.00 10};
\node at (-140pt,210pt) {6.00 10};
\node at (-140pt,140pt) {4.00 10};
\node at (-140pt,70pt) {2.00 10};
\node at (-107pt,0pt) {0.00};
\end{scope}
\end{scope}
\end{tikzpicture}
\end{document}
